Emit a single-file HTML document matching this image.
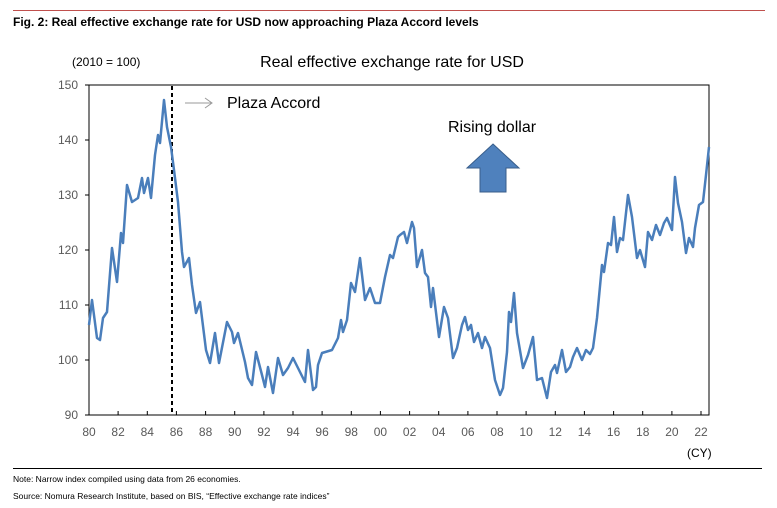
<!DOCTYPE html>
<html><head><meta charset="utf-8"><style>
body{margin:0;background:#fff;}
svg{display:block;font-family:"Liberation Sans",Arial,sans-serif;}
</style></head><body>
<svg width="777" height="508" viewBox="0 0 777 508" xmlns="http://www.w3.org/2000/svg">
<rect width="777" height="508" fill="#fff"/>
<line x1="13" y1="10.5" x2="765" y2="10.5" stroke="#c0504d" stroke-width="1"/>
<text x="13" y="26" font-size="12" font-weight="bold" fill="#000">Fig. 2: Real effective exchange rate for USD now approaching Plaza Accord levels</text>
<text x="72" y="66" font-size="12" fill="#000">(2010 = 100)</text>
<text x="392" y="67" font-size="16" fill="#000" text-anchor="middle">Real effective exchange rate for USD</text>
<rect x="89" y="85" width="620" height="330" fill="none" stroke="#000" stroke-width="1"/>
<g stroke="#000" stroke-width="1">
<line x1="85" y1="85" x2="89" y2="85"/><line x1="85" y1="140" x2="89" y2="140"/><line x1="85" y1="195" x2="89" y2="195"/><line x1="85" y1="250" x2="89" y2="250"/><line x1="85" y1="305" x2="89" y2="305"/><line x1="85" y1="360" x2="89" y2="360"/><line x1="85" y1="415" x2="89" y2="415"/>
</g>
<g font-size="12" fill="#595959" text-anchor="end">
<text x="78" y="89">150</text><text x="78" y="144">140</text><text x="78" y="199">130</text><text x="78" y="254">120</text><text x="78" y="309">110</text><text x="78" y="364">100</text><text x="78" y="419">90</text>
</g>
<g stroke="#000" stroke-width="1" id="xt"></g>
<g font-size="12" fill="#595959" text-anchor="middle">
<text x="89" y="436">80</text><text x="118.1" y="436">82</text><text x="147.3" y="436">84</text><text x="176.4" y="436">86</text><text x="205.6" y="436">88</text><text x="234.7" y="436">90</text><text x="263.9" y="436">92</text><text x="293" y="436">94</text><text x="322.1" y="436">96</text><text x="351.3" y="436">98</text><text x="380.4" y="436">00</text><text x="409.6" y="436">02</text><text x="438.7" y="436">04</text><text x="467.9" y="436">06</text><text x="497" y="436">08</text><text x="526.1" y="436">10</text><text x="555.3" y="436">12</text><text x="584.4" y="436">14</text><text x="613.6" y="436">16</text><text x="642.7" y="436">18</text><text x="671.9" y="436">20</text><text x="701" y="436">22</text>
</g>
<g stroke="#000" stroke-width="1">
<line x1="89" y1="415" x2="89" y2="411"/><line x1="118.1" y1="415" x2="118.1" y2="411"/><line x1="147.3" y1="415" x2="147.3" y2="411"/><line x1="176.4" y1="415" x2="176.4" y2="411"/><line x1="205.6" y1="415" x2="205.6" y2="411"/><line x1="234.7" y1="415" x2="234.7" y2="411"/><line x1="263.9" y1="415" x2="263.9" y2="411"/><line x1="293" y1="415" x2="293" y2="411"/><line x1="322.1" y1="415" x2="322.1" y2="411"/><line x1="351.3" y1="415" x2="351.3" y2="411"/><line x1="380.4" y1="415" x2="380.4" y2="411"/><line x1="409.6" y1="415" x2="409.6" y2="411"/><line x1="438.7" y1="415" x2="438.7" y2="411"/><line x1="467.9" y1="415" x2="467.9" y2="411"/><line x1="497" y1="415" x2="497" y2="411"/><line x1="526.1" y1="415" x2="526.1" y2="411"/><line x1="555.3" y1="415" x2="555.3" y2="411"/><line x1="584.4" y1="415" x2="584.4" y2="411"/><line x1="613.6" y1="415" x2="613.6" y2="411"/><line x1="642.7" y1="415" x2="642.7" y2="411"/><line x1="671.9" y1="415" x2="671.9" y2="411"/><line x1="701" y1="415" x2="701" y2="411"/>
</g>
<line x1="172" y1="86" x2="172" y2="415" stroke="#000" stroke-width="2" stroke-dasharray="4,3"/>
<polyline fill="none" stroke="#4a7ebb" stroke-width="2.5" stroke-linejoin="round" points="89,325 92,300 97,338 100,340 103,318 107,312 112,248 117,282 121,233 123,243 127,185 132,202 138,198 142,178 144,193 148,178 151,198 155,155 158,135 160,143 164,100 167,127 171,147 174,170 178,202 182,252 184,267 189,258 192,285 196,313 200,302 206,350 210,363 215,333 219,363 227,322 232,332 234,343 238,333 245,362 248,378 252,385 256,352 262,375 265,387 268,367 273,393 278,358 283,375 288,368 293,358 298,368 305,382 308,350 313,390 316,387 318,365 322,353 332,350 338,338 341,320 343,332 347,320 351,283 355,292 360,258 365,300 370,288 375,303 380,303 385,277 390,255 393,258 398,237 400,235 404,232 407,243 412,222 414,228 417,267 422,250 425,273 428,277 431,307 433,288 439,337 444,307 448,318 453,358 457,348 462,325 465,317 468,330 471,325 474,342 478,333 482,348 485,337 490,348 495,380 500,395 503,388 507,352 509,312 511,322 514,293 517,333 523,368 528,355 533,337 537,380 542,378 547,398 551,372 555,365 557,373 562,350 566,372 570,367 573,357 577,348 582,360 586,350 590,354 593,348 597,318 602,265 604,272 608,243 611,245 614,217 617,252 620,238 623,240 628,195 632,217 637,258 640,250 645,267 648,232 652,240 656,225 660,235 664,223 667,218 672,230 675,177 678,203 682,222 686,253 689,238 693,247 695,228 699,205 703,202 706,175 709,147"/>
<line x1="185" y1="103" x2="211" y2="103" stroke="#999" stroke-width="1"/>
<polyline points="205,98 212,103 205,108" fill="none" stroke="#999" stroke-width="1"/>
<text x="227" y="108" font-size="16" fill="#000">Plaza Accord</text>
<text x="448" y="132" font-size="16" fill="#000">Rising dollar</text>
<polygon points="493,144 519,168 506,168 506,192 480,192 480,168 467,168" fill="#4f81bd" stroke="#385d8a" stroke-width="1"/>
<text x="687" y="457" font-size="12" fill="#000">(CY)</text>
<line x1="13" y1="468.5" x2="762" y2="468.5" stroke="#000" stroke-width="1"/>
<text x="13" y="482" font-size="8.5" fill="#000">Note: Narrow index compiled using data from 26 economies.</text>
<text x="13" y="499" font-size="8.5" fill="#000">Source: Nomura Research Institute, based on BIS, “Effective exchange rate indices”</text>
</svg>
</body></html>
